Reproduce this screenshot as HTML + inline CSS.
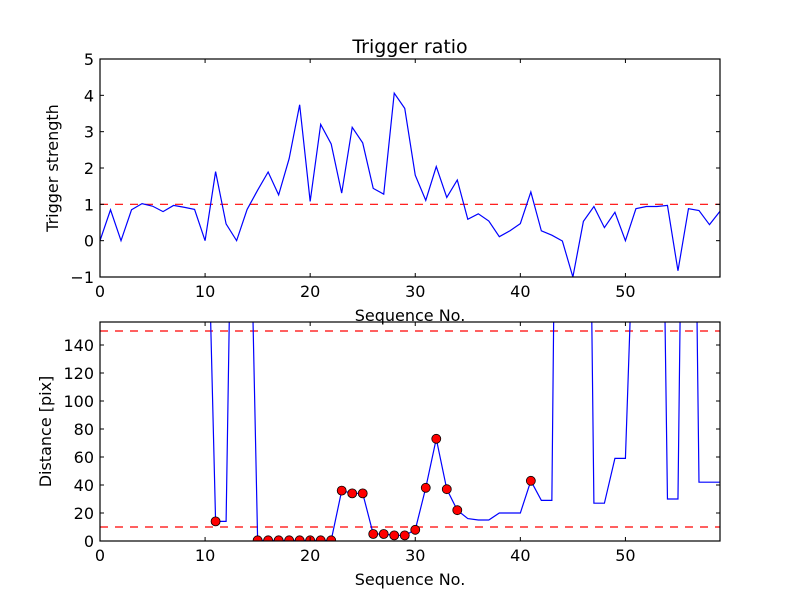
<!DOCTYPE html>
<html><head><meta charset="utf-8"><style>
body{margin:0;background:#fff}
svg text{font-family:"DejaVu Sans","Liberation Sans",sans-serif;fill:#000}
</style></head><body>
<svg id="chart" width="800" height="600" xmlns="http://www.w3.org/2000/svg">
<rect width="800" height="600" fill="#fff"/>
<defs>
<clipPath id="c1"><rect x="100" y="59" width="620" height="218"/></clipPath>
<clipPath id="c2"><rect x="100" y="322" width="620" height="219"/></clipPath>
</defs>
<g id="g1"></g>
<g id="g2"></g>
</svg>
<script>
const ratioValues=[0,0.85,0,0.85,1.02,0.95,0.8,0.97,0.92,0.86,0,1.9,0.46,0,0.86,1.39,1.89,1.26,2.26,3.74,1.08,3.2,2.66,1.31,3.12,2.69,1.44,1.28,4.06,3.64,1.8,1.11,2.04,1.19,1.67,0.59,0.74,0.54,0.11,0.27,0.47,1.34,0.27,0.15,-0.01,-1.0,0.53,0.94,0.36,0.78,0,0.88,0.94,0.94,0.97,-0.83,0.88,0.83,0.44,0.81];
const distanceValues=[500,500,500,500,500,500,500,500,500,500,318,14,14,490,357,0.5,0.5,0.5,0.5,0.5,0.5,0.5,0.5,36,34,34,5,5,4,4,8,38,73,37,22,16,15,15,20,20,20,43,29,29,780,780,680,27,27,59,59,280,580,580,30,30,665,42,42,42];
const markerIdx=[11,15,16,17,18,19,20,21,22,23,24,25,26,27,28,29,30,31,32,33,34,41];
const ratioTicks=[-1,0,1,2,3,4,5];
const distTicks=[0,20,40,60,80,100,120,140];
const xTicks=[0,10,20,30,40,50];
const ratioThreshold=1;
const distThresholds=[10,150];

const NS="http://www.w3.org/2000/svg";
function mk(p,t,a){const e=document.createElementNS(NS,t);for(const k in a)e.setAttribute(k,a[k]);p.appendChild(e);return e;}
const X=v=>100+v*620/59;
const Y1=v=>59+(5-v)*218/6;
const Y2=v=>541-v*1.4;

function axes(g,top,bot,yTicks,yf,ylabel){
  xTicks.forEach(t=>{
    const x=X(t);
    let l=mk(g,'line',{x1:x,x2:x,y1:bot,y2:bot-4,stroke:'#000'});
    
    
    mk(g,'line',{x1:x,x2:x,y1:top,y2:top+4,stroke:'#000'});
    let tx=mk(g,'text',{x:x,y:bot+20,'font-size':16,'text-anchor':'middle'});tx.textContent=t;
    
    
  });
  yTicks.forEach(t=>{
    const y=yf(t);
    mk(g,'line',{x1:100,x2:104,y1:y,y2:y,stroke:'#000'});
    mk(g,'line',{x1:720,x2:716,y1:y,y2:y,stroke:'#000'});
    let tx=mk(g,'text',{x:94,y:y+6,'font-size':16,'text-anchor':'end'});tx.textContent=(t<0?'\u2212'+(-t):t);
    
    
  });
  let xl=mk(g,'text',{x:410,y:bot+44,'font-size':16,'text-anchor':'middle'});xl.textContent='Sequence No.';
  
  
  const cy=(top+bot)/2;
  let yl=mk(g,'text',{x:0,y:0,'font-size':16,'text-anchor':'middle',transform:`translate(${ylabel[1]},${cy}) rotate(-90)`});yl.textContent=ylabel[0];
  
  
}

const g1=document.getElementById('g1');
const c1=mk(g1,'g',{'clip-path':'url(#c1)'});
let th=mk(c1,'line',{x1:100,x2:720,y1:Y1(ratioThreshold),y2:Y1(ratioThreshold),stroke:'#f00','stroke-dasharray':'8,7','stroke-width':1.2});


let p1=mk(c1,'polyline',{points:ratioValues.map((v,i)=>X(i)+','+Y1(v)).join(' '),fill:'none',stroke:'#00f','stroke-width':1.2});


mk(g1,'rect',{x:100,y:59,width:620,height:218,fill:'none',stroke:'#000','stroke-width':1.2});
axes(g1,59,277,ratioTicks,Y1,['Trigger strength',58]);
let tt=mk(g1,'text',{x:410,y:53,'font-size':19,'text-anchor':'middle'});tt.textContent='Trigger ratio';



const g2=document.getElementById('g2');
const c2=mk(g2,'g',{'clip-path':'url(#c2)'});
distThresholds.forEach(v=>{
  let l=mk(c2,'line',{x1:100,x2:720,y1:Y2(v),y2:Y2(v),stroke:'#f00','stroke-dasharray':'8,7','stroke-width':1.2});
  
  
});
let p2=mk(c2,'polyline',{points:distanceValues.map((v,i)=>X(i)+','+Y2(v)).join(' '),fill:'none',stroke:'#00f','stroke-width':1.2});


markerIdx.forEach(i=>{
  let c=mk(c2,'circle',{cx:X(i),cy:Y2(distanceValues[i]),r:4.5,fill:'#f00',stroke:'#000','stroke-width':0.8});
  
  
});
mk(g2,'rect',{x:100,y:322,width:620,height:219,fill:'none',stroke:'#000','stroke-width':1.2});
axes(g2,322,541,distTicks,Y2,['Distance [pix]',51]);
</script>
</body></html>
